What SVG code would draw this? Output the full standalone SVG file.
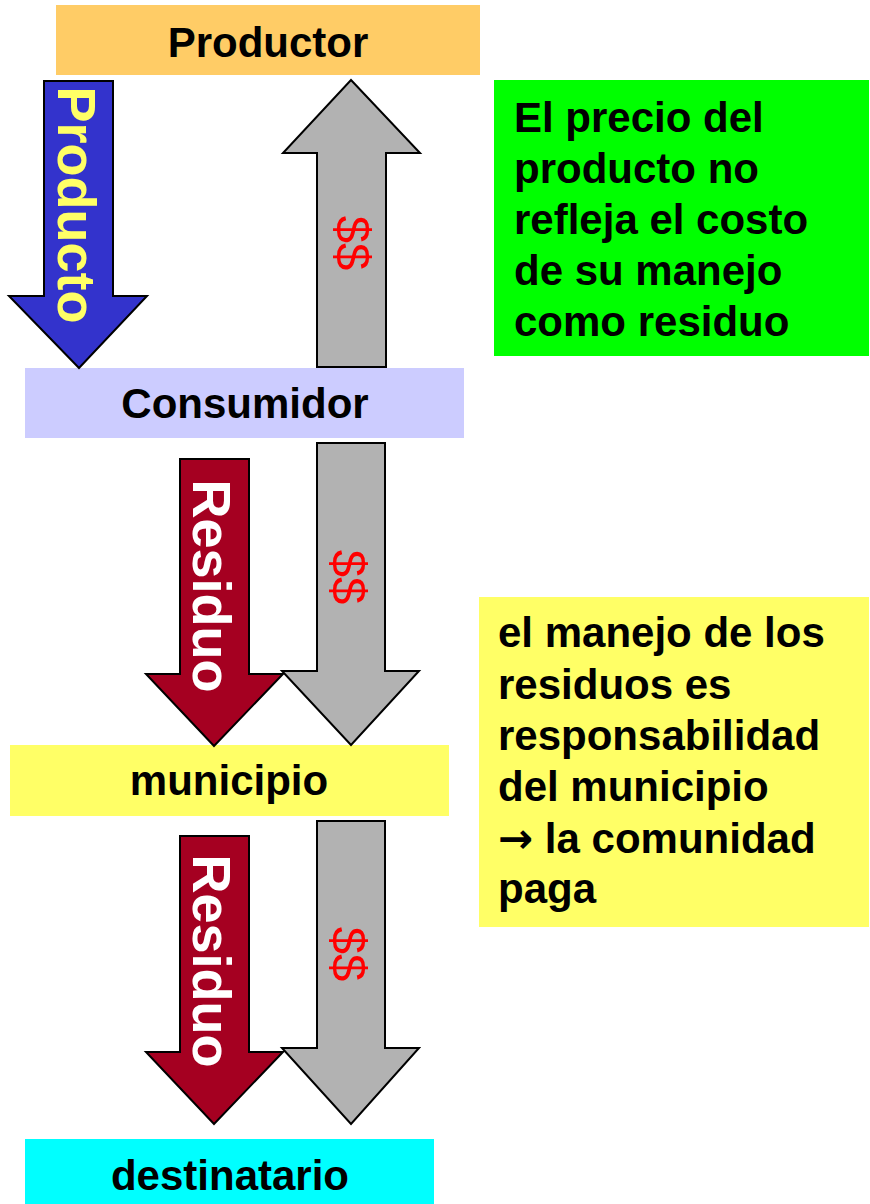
<svg xmlns="http://www.w3.org/2000/svg" width="870" height="1204" viewBox="0 0 870 1204">
<style>
.lbl{font-family:"Liberation Sans",Arial,sans-serif;font-weight:bold;font-size:42px;fill:#000}
.c{text-anchor:middle}
.arr{stroke:#000;stroke-width:2;stroke-linejoin:miter}
.gray{fill:#B2B2B2}
.red{fill:#A50021}
.blue{fill:#3333CC}
.vt{font-family:"Liberation Sans",Arial,sans-serif;font-weight:bold;font-size:54px;text-anchor:middle}
.dol{font-family:"Liberation Sans",Arial,sans-serif;font-size:49px;fill:#FF0000;text-anchor:middle}
.sym{font-family:"DejaVu Sans",sans-serif;font-weight:bold}
</style>
<rect width="870" height="1204" fill="#FFFFFF"/>
<g id="productor">
<rect x="56" y="5" width="424" height="70" fill="#FFCC66"/>
<text class="lbl c" x="268" y="57">Productor</text>
</g>
<g id="consumidor">
<rect x="25" y="368" width="439" height="70" fill="#CCCCFF"/>
<text class="lbl c" x="245" y="418">Consumidor</text>
</g>
<g id="municipio">
<rect x="10" y="745" width="439" height="71" fill="#FFFF66"/>
<text class="lbl c" x="229" y="795">municipio</text>
</g>
<g id="destinatario">
<rect x="25" y="1139" width="409" height="65" fill="#00FFFF"/>
<text class="lbl c" x="230" y="1190">destinatario</text>
</g>
<g id="nota-precio">
<rect x="494" y="80" width="375" height="276" fill="#00FF00"/>
<text class="lbl" x="514" y="132">El precio del</text>
<text class="lbl" x="514" y="183">producto no</text>
<text class="lbl" x="514" y="234">refleja el costo</text>
<text class="lbl" x="514" y="285">de su manejo</text>
<text class="lbl" x="514" y="336">como residuo</text>
</g>
<g id="nota-municipio">
<rect x="479" y="597" width="390" height="330" fill="#FFFF66"/>
<text class="lbl" x="498" y="647">el manejo de los</text>
<text class="lbl" x="498" y="699">residuos es</text>
<text class="lbl" x="498" y="750">responsabilidad</text>
<text class="lbl" x="498" y="801">del municipio</text>
<text class="lbl" x="498" y="853"><tspan class="sym">→</tspan> la comunidad</text>
<text class="lbl" x="498" y="903">paga</text>
</g>
<g id="connectors">
<g id="flecha-producto">
<polygon class="arr blue" points="44,81 113,81 113,296 147,296 79,368 9,296 44,296"/>
<text class="vt" fill="#FFFF66" transform="translate(58,205) rotate(90)">Producto</text>
</g>
<g id="flecha-pago-1">
<polygon class="arr gray" points="351,80 420,153 386,153 386,367 317,367 317,153 283,153"/>
<text class="dol" transform="translate(336,243) rotate(90)">$$</text>
</g>
<g id="flecha-residuo-1">
<polygon class="arr red" points="180,459 249,459 249,674 283,674 214,746 146,674 180,674"/>
<text class="vt" fill="#FFFFFF" transform="translate(193,586) rotate(90)">Residuo</text>
</g>
<g id="flecha-pago-2">
<polygon class="arr gray" points="317,443 385,443 385,671 419,671 351,745 282,671 317,671"/>
<text class="dol" transform="translate(332,577) rotate(90)">$$</text>
</g>
<g id="flecha-residuo-2">
<polygon class="arr red" points="180,836 249,836 249,1052 283,1052 214,1124 146,1052 180,1052"/>
<text class="vt" fill="#FFFFFF" transform="translate(193,961) rotate(90)">Residuo</text>
</g>
<g id="flecha-pago-3">
<polygon class="arr gray" points="317,821 385,821 385,1048 419,1048 351,1124 282,1048 317,1048"/>
<text class="dol" transform="translate(332,954) rotate(90)">$$</text>
</g>
</g>
</svg>
